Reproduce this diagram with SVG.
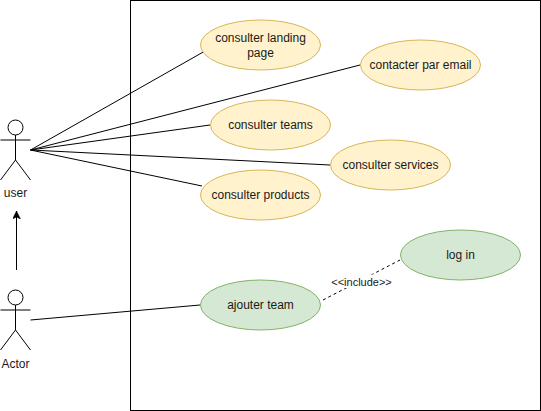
<svg xmlns="http://www.w3.org/2000/svg" width="541" height="411" viewBox="0 0 541 411">
<style>
text{font-family:"Liberation Sans",Arial,sans-serif;font-size:12px;fill:#1a1a1a;text-anchor:middle}
.y{fill:#fff2cc;stroke:#d6b656}
.g{fill:#d5e8d4;stroke:#82b366}
.a{fill:none;stroke:#000;stroke-width:1}
.c line,.c path{fill:none;stroke:#000;stroke-width:1}
</style>
<defs><marker id="arr" markerWidth="10" markerHeight="10" refX="8" refY="4" orient="auto" markerUnits="userSpaceOnUse"><path d="M0 0L8 4L0 8L2 4Z" fill="#000" stroke="#000" stroke-width="0.500"/></marker></defs>
<rect id="boundary" x="130.500" y="0.500" width="410" height="410" fill="#fff" stroke="#000"/>
<g id="connectors" class="c">
<line x1="30.500" y1="150" x2="205" y2="51"/>
<line x1="30.500" y1="150" x2="360" y2="65"/>
<line x1="30.500" y1="150" x2="210" y2="125"/>
<line x1="30.500" y1="150" x2="330" y2="165"/>
<line x1="30.500" y1="150" x2="202" y2="186"/>
<line x1="30.500" y1="320" x2="200" y2="305"/>
<line x1="16.500" y1="270" x2="16.500" y2="211" marker-end="url(#arr)"/>
<line x1="323" y1="300" x2="400" y2="260" stroke-dasharray="3 3"/>
</g>
<g id="uc1"><ellipse class="y" cx="260.500" cy="45" rx="60" ry="25"/><text x="260.500" y="42">consulter landing</text><text x="260.500" y="57">page</text></g>
<g id="uc2"><ellipse class="y" cx="420.500" cy="65" rx="60" ry="25"/><text x="420.500" y="69">contacter par email</text></g>
<g id="uc3"><ellipse class="y" cx="270.500" cy="125" rx="60" ry="25"/><text x="270.500" y="129">consulter teams</text></g>
<g id="uc4"><ellipse class="y" cx="390.500" cy="165" rx="60" ry="25"/><text x="390.500" y="169">consulter services</text></g>
<g id="uc5"><ellipse class="y" cx="260.500" cy="195" rx="60" ry="25"/><text x="260.500" y="199">consulter products</text></g>
<g id="uc6"><ellipse class="g" cx="260.500" cy="305" rx="60" ry="25"/><text x="260.500" y="309">ajouter team</text></g>
<g id="uc7"><ellipse class="g" cx="460.500" cy="255" rx="60" ry="25"/><text x="460.500" y="259">log in</text></g>
<g id="include-label"><rect x="332" y="274.500" width="60" height="13.500" fill="#fff"/><text x="361.500" y="285.500" style="font-size:11px">&lt;&lt;include&gt;&gt;</text></g>
<g id="user"><circle class="a" cx="15.500" cy="127.500" r="7.500"/><path class="a" d="M15.500 135V160M0.500 140H30.500M15.500 160L0.500 180M15.500 160L30.500 180"/><text x="15.500" y="197">user</text></g>
<g id="actor"><circle class="a" cx="15.500" cy="297.500" r="7.500"/><path class="a" d="M15.500 305V330M0.500 310H30.500M15.500 330L0.500 350M15.500 330L30.500 350"/><text x="15.500" y="368">Actor</text></g>
</svg>
